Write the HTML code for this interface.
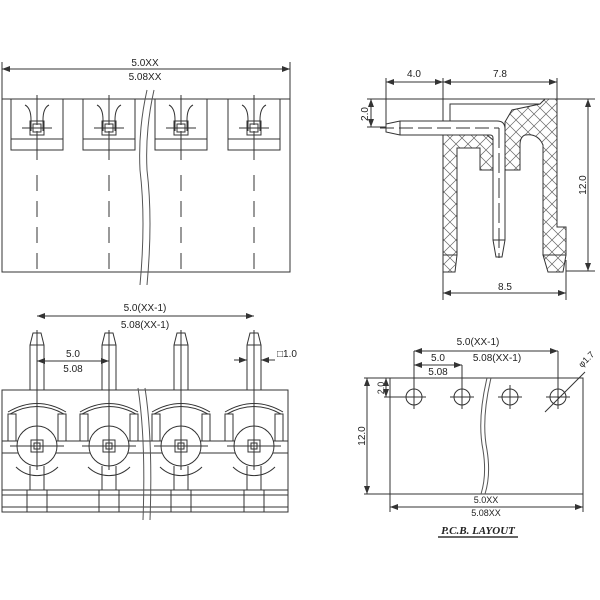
<!DOCTYPE html>
<html><head><style>body{margin:0;background:#fff}svg{display:block}text{font-family:"Liberation Sans",sans-serif;fill:#222}</style></head><body>
<svg width="600" height="600" viewBox="0 0 600 600" stroke="#333" fill="none" stroke-width="1">
<defs>
<pattern id="h" width="12" height="12" patternUnits="userSpaceOnUse"><path d="M0 0L12 12M12 0L0 12" stroke="#666" stroke-width="0.7"/></pattern>
<marker id="a" markerWidth="8" markerHeight="6" refX="8" refY="3" orient="auto-start-reverse"><path d="M0 0L8 3L0 6z" fill="#333" stroke="none"/></marker>
</defs>
<!-- TOP LEFT -->
<line x1="2" y1="69" x2="290" y2="69" marker-start="url(#a)" marker-end="url(#a)"/>
<line x1="2" y1="62" x2="2" y2="99"/><line x1="290" y1="62" x2="290" y2="99"/>
<text x="145" y="66" font-size="10" text-anchor="middle" stroke="none">5.0XX</text>
<text x="145" y="80" font-size="10" text-anchor="middle" stroke="none">5.08XX</text>
<rect x="2" y="99" width="288" height="173"/>
<g id="w">
<rect x="11" y="99" width="52" height="51"/><line x1="11" y1="139" x2="63" y2="139"/>
<path d="M25 105 Q31 108 31 120 L31 131 M49 105 Q43 108 43 120 L43 131"/>
<rect x="30" y="121" width="14" height="14"/><rect x="33" y="124" width="8" height="8"/>
<line x1="22" y1="128" x2="52" y2="128"/>
<line x1="37" y1="95" x2="37" y2="160" stroke-dasharray="30 6"/>
<line x1="37" y1="175" x2="37" y2="270" stroke-dasharray="16 10"/>
</g>
<use href="#w" x="72"/><use href="#w" x="144"/><use href="#w" x="217"/>
<path d="M147 90 Q138 130 140 170 Q146 220 140 285 M154 90 Q145 130 147 170 Q153 220 147 285" stroke="#555" fill="none"/>
<!-- TOP RIGHT -->
<line x1="386" y1="82" x2="443" y2="82" marker-start="url(#a)" marker-end="url(#a)"/>
<line x1="443" y1="82" x2="557" y2="82" marker-start="url(#a)" marker-end="url(#a)"/>
<line x1="386" y1="78" x2="386" y2="125"/><line x1="443" y1="78" x2="443" y2="300"/><line x1="557" y1="78" x2="557" y2="99"/>
<text x="414" y="77" font-size="10" text-anchor="middle" stroke="none">4.0</text>
<text x="500" y="77" font-size="10" text-anchor="middle" stroke="none">7.8</text>
<line x1="371" y1="99" x2="371" y2="127" marker-start="url(#a)" marker-end="url(#a)"/>
<line x1="367" y1="99" x2="443" y2="99"/><line x1="367" y1="127" x2="386" y2="127"/>
<text transform="translate(368 114) rotate(-90)" font-size="10" text-anchor="middle" stroke="none">2.0</text>
<path d="M443 99 L545 99 M450 135 L450 104 L540 104"/>
<path d="M443 135 L487 135 L493 140 L493 170 L480 170 L480 148 L457 148 L457 255 L443 255 Z" fill="url(#h)"/>
<path d="M443 255 L457 255 L455 272 L443 272 Z" fill="url(#h)"/>
<path d="M505 170 L505 122 L512 110 L540 104 L545 99 L557 99 L557 227 L566 227 L566 255 L543 255 L543 145 Q538 133 525 135 Q520 137 520 145 L520 170 Z" fill="url(#h)"/>
<path d="M543 255 L566 255 L563 272 L548 272 Z" fill="url(#h)"/>
<path d="M386 124 L400 121 L497 121 Q505 121 505 129 L505 240 L502 257 L496 257 L493 240 L493 138 Q493 135 490 135 L400 135 L386 132 Z" fill="#fff"/>
<line x1="400" y1="121" x2="400" y2="135"/>
<line x1="493" y1="240" x2="505" y2="240"/>
<line x1="380" y1="128" x2="499" y2="128" stroke-dasharray="14 5"/>
<line x1="499" y1="128" x2="499" y2="258" stroke-dasharray="20 5"/>
<line x1="557" y1="99" x2="595" y2="99"/><line x1="566" y1="271" x2="595" y2="271"/>
<line x1="588" y1="99" x2="588" y2="271" marker-start="url(#a)" marker-end="url(#a)"/>
<text transform="translate(586 185) rotate(-90)" font-size="10" text-anchor="middle" stroke="none">12.0</text>
<line x1="566" y1="260" x2="566" y2="300"/>
<line x1="443" y1="293" x2="566" y2="293" marker-start="url(#a)" marker-end="url(#a)"/>
<text x="505" y="290" font-size="10" text-anchor="middle" stroke="none">8.5</text>
<!-- BOTTOM LEFT -->
<line x1="37" y1="316" x2="254" y2="316" marker-start="url(#a)" marker-end="url(#a)"/>
<text x="145" y="311" font-size="10" text-anchor="middle" stroke="none">5.0(XX-1)</text>
<text x="145" y="328" font-size="10" text-anchor="middle" stroke="none">5.08(XX-1)</text>
<line x1="37" y1="361" x2="109" y2="361" marker-start="url(#a)" marker-end="url(#a)"/>
<text x="73" y="357" font-size="10" text-anchor="middle" stroke="none">5.0</text>
<text x="73" y="372" font-size="10" text-anchor="middle" stroke="none">5.08</text>
<line x1="234" y1="360" x2="247" y2="360" marker-end="url(#a)"/><line x1="275" y1="360" x2="261" y2="360" marker-end="url(#a)"/>
<text x="277" y="357" font-size="10" stroke="none">□1.0</text>
<rect x="2" y="390" width="286" height="122"/>
<line x1="2" y1="441" x2="288" y2="441"/><line x1="2" y1="453" x2="288" y2="453"/>
<line x1="2" y1="490" x2="288" y2="490"/><line x1="2" y1="495" x2="288" y2="495"/><line x1="2" y1="507" x2="288" y2="507"/>
<g id="p">
<path d="M30 390 L30 345 L33 333 L41 333 L44 345 L44 390"/><line x1="30" y1="345" x2="44" y2="345"/>
<path d="M8 412 Q37 395 66 412 M10 414 Q37 399 64 414"/>
<rect x="8" y="414" width="8" height="27"/><rect x="58" y="414" width="8" height="27"/>
<path d="M16 467 A30 30 0 0 0 58 467"/>
<circle cx="37" cy="446" r="20" fill="#fff"/>
<rect x="31" y="440" width="12" height="12"/><rect x="34" y="443" width="6" height="6"/>
<line x1="10" y1="446" x2="64" y2="446"/>
<line x1="37" y1="330" x2="37" y2="470"/>
<path d="M30 466 L30 490 M44 466 L44 490"/>
<rect x="27" y="490" width="20" height="22"/>
</g>
<use href="#p" x="72"/><use href="#p" x="144"/><use href="#p" x="217"/>
<path d="M138 388 Q146 440 143 520 M145 388 Q153 440 150 520" stroke="#555"/>
<!-- BOTTOM RIGHT -->
<text x="478" y="345" font-size="10" text-anchor="middle" stroke="none">5.0(XX-1)</text>
<line x1="414" y1="351" x2="558" y2="351" marker-start="url(#a)" marker-end="url(#a)"/>
<line x1="414" y1="351" x2="414" y2="405"/><line x1="558" y1="351" x2="558" y2="405"/>
<line x1="462" y1="365" x2="462" y2="405"/>
<line x1="414" y1="365" x2="462" y2="365" marker-start="url(#a)" marker-end="url(#a)"/>
<text x="438" y="361" font-size="10" text-anchor="middle" stroke="none">5.0</text>
<text x="497" y="361" font-size="10" text-anchor="middle" stroke="none">5.08(XX-1)</text>
<text x="438" y="375" font-size="10" text-anchor="middle" stroke="none">5.08</text>
<rect x="390" y="378" width="193" height="116"/>
<path d="M487 378 Q477 420 483 450 Q487 475 481 494 M491 378 Q481 420 487 450 Q491 475 485 494" stroke="#555" fill="#fff"/>
<line x1="384" y1="378" x2="390" y2="378"/><line x1="384" y1="397" x2="406" y2="397"/>
<line x1="386" y1="378" x2="386" y2="397" marker-start="url(#a)" marker-end="url(#a)"/>
<text transform="translate(384 388) rotate(-90)" font-size="9" text-anchor="middle" stroke="none">2.0</text>
<line x1="367" y1="378" x2="367" y2="494" marker-start="url(#a)" marker-end="url(#a)"/>
<line x1="364" y1="378" x2="390" y2="378"/><line x1="364" y1="494" x2="390" y2="494"/>
<text transform="translate(365 436) rotate(-90)" font-size="10" text-anchor="middle" stroke="none">12.0</text>
<g id="c"><circle cx="414" cy="397" r="8"/><line x1="402" y1="397" x2="426" y2="397"/><line x1="414" y1="385" x2="414" y2="409"/></g>
<use href="#c" x="48"/><use href="#c" x="96"/><use href="#c" x="144"/>
<line x1="545" y1="412" x2="585" y2="372"/>
<text transform="translate(582 368) rotate(-45)" font-size="9" stroke="none">φ1.7</text>
<line x1="390" y1="494" x2="390" y2="512"/><line x1="583" y1="494" x2="583" y2="512"/>
<line x1="390" y1="507" x2="583" y2="507" marker-start="url(#a)" marker-end="url(#a)"/>
<text x="486" y="503" font-size="9" text-anchor="middle" stroke="none">5.0XX</text>
<text x="486" y="516" font-size="9" text-anchor="middle" stroke="none">5.08XX</text>
<text x="478" y="534" font-size="11" font-style="italic" font-weight="bold" text-anchor="middle" stroke="none" style="font-family:'Liberation Serif',serif">P.C.B.  LAYOUT</text>
<line x1="438" y1="537" x2="518" y2="537" stroke-width="1.5"/>
</svg>
</body></html>
